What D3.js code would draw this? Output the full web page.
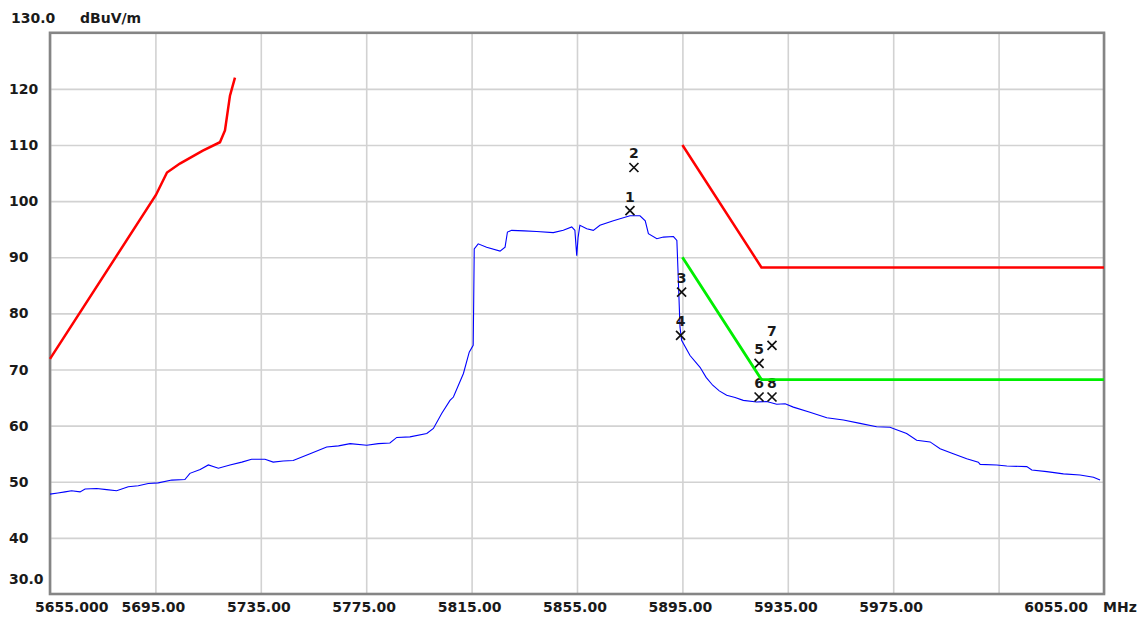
<!DOCTYPE html>
<html>
<head>
<meta charset="utf-8">
<script src="https://cdn.jsdelivr.net/npm/d3@7"></script>
<style>
  body { margin: 0; background: #fff; }
  text { font-family: "DejaVu Sans", sans-serif; font-weight: bold; font-size: 14px; fill: #1a1a1a; }
</style>
</head>
<body>
<svg width="1145" height="621"></svg>
<script>
// axis ticks
var xTicks = [5655, 5695, 5735, 5775, 5815, 5855, 5895, 5935, 5975, 6015, 6055];
var xTickLabels = ["5655.000", "5695.00", "5735.00", "5775.00", "5815.00", "5855.00", "5895.00", "5935.00", "5975.00", "", "6055.00"];
var yTicks = [40, 50, 60, 70, 80, 90, 100, 110, 120];

// measured trace (MHz, dBuV/m)
var traceFreq = [5655.0, 5658.0, 5660.7, 5663.2, 5666.4, 5668.3, 5672.7, 5676.5, 5680.3, 5684.7, 5688.5, 5692.3, 5696.1,
  5701.2, 5706.2, 5708.1, 5712.0, 5715.1, 5718.9, 5723.3, 5727.8, 5731.5, 5736.6, 5739.7, 5743.5, 5747.3,
  5753.7, 5760.0, 5764.5, 5768.9, 5775.2, 5779.6, 5784.0, 5786.6, 5791.6, 5798.0, 5800.5, 5803.7, 5806.8,
  5808.1, 5811.9, 5814.1, 5815.6, 5815.8, 5816.0, 5817.5, 5820.7, 5825.8, 5827.7, 5828.6, 5830.2, 5835.0,
  5839.7, 5846.0, 5849.8, 5853.0, 5854.2, 5854.9, 5855.4, 5856.1, 5858.7, 5861.2, 5863.7, 5868.8, 5875.1,
  5878.9, 5880.9, 5882.1, 5885.3, 5887.8, 5891.6, 5892.9, 5893.3, 5894.1, 5894.7, 5897.9, 5901.7, 5904.0, 5906.5,
  5909.0, 5911.8, 5915.0, 5918.1, 5923.2, 5927.0, 5930.8, 5934.0, 5937.1, 5943.4, 5949.8, 5956.1, 5962.4, 5968.7,
  5973.8, 5975.0, 5980.1, 5983.9, 5989.0, 5992.8, 5997.8, 6002.9, 6007.3, 6008.0, 6014.3, 6018.1, 6025.7,
  6027.6, 6033.3, 6039.6, 6045.9, 6051.0, 6053.5];
var traceLevel = [47.8, 48.0, 48.2, 48.4, 48.2, 48.7, 48.8, 48.6, 48.4, 49.1, 49.3, 49.7, 49.8,
  50.3, 50.4, 51.5, 52.2, 53.0, 52.4, 53.0, 53.5, 54.0, 54.0, 53.5, 53.7, 53.8,
  55.0, 56.2, 56.4, 56.8, 56.5, 56.8, 56.9, 57.9, 58.0, 58.6, 59.5, 62.2, 64.5,
  65.1, 69.3, 73.1, 74.3, 82.3, 91.5, 92.4, 91.8, 91.1, 91.8, 94.5, 94.8, 94.7,
  94.6, 94.4, 94.8, 95.4, 94.8, 90.3, 93.5, 95.7, 95.1, 94.8, 95.7, 96.5, 97.4,
  97.4, 96.5, 94.2, 93.3, 93.6, 93.7, 93.0, 88.0, 77.5, 75.2, 72.5, 70.4, 68.6, 67.2,
  66.2, 65.4, 65.0, 64.5, 64.2, 64.3, 63.8, 63.9, 63.3, 62.4, 61.4, 61.0, 60.4, 59.8,
  59.7, 59.5, 58.6, 57.4, 57.1, 55.9, 55.0, 54.1, 53.5, 53.1, 53.0, 52.8, 52.7,
  52.1, 51.8, 51.4, 51.2, 50.8, 50.3];

// limit lines
var limitLowFreq = [5655, 5695.2, 5699.4, 5704.3, 5713.0, 5719.5, 5721.4, 5723.3, 5725.2];
var limitLowLevel = [71.9, 101.1, 105.1, 106.7, 109.0, 110.5, 112.6, 118.8, 122.0];
var limitHighFreq = [5895, 5925, 6055];
var limitHighLevel = [110.0, 88.2, 88.2];
var limitGreenFreq = [5895, 5925, 6055];
var limitGreenLevel = [90.0, 68.2, 68.2];

// markers
var markerNo = ["1", "2", "3", "4", "5", "6", "7", "8"];
var markerFreq = [5875.1, 5876.6, 5894.7, 5894.3, 5924.1, 5924.1, 5929.0, 5929.0];
var markerLevel = [98.3, 106.0, 83.8, 76.1, 71.1, 65.1, 74.3, 65.1];

var svg = d3.select("svg");
var x = d3.scaleLinear().domain([5655, 6055]).range([50, 1104]);
var y = d3.scaleLinear().domain([30, 130]).range([594, 32.8]);

// grid
svg.append("g")
    .attr("transform", "translate(0,594)")
    .call(d3.axisBottom(x).tickValues(xTicks).tickSize(-(594 - 32.8)).tickFormat(""))
    .call(function (g) { g.select(".domain").remove(); })
    .selectAll("line").attr("stroke", "#d2d2d2").attr("stroke-width", 1.6);
svg.append("g")
    .attr("transform", "translate(50,0)")
    .call(d3.axisLeft(y).tickValues(yTicks).tickSize(-(1104 - 50)).tickFormat(""))
    .call(function (g) { g.select(".domain").remove(); })
    .selectAll("line").attr("stroke", "#d2d2d2").attr("stroke-width", 1.6);

// frame
svg.append("rect")
    .attr("x", 50).attr("y", 32.8)
    .attr("width", 1104 - 50).attr("height", 594 - 32.8)
    .attr("fill", "none").attr("stroke", "#858585").attr("stroke-width", 2.6);

// y labels
svg.selectAll("text.ylab")
    .data(yTicks)
    .enter().append("text")
    .attr("class", "ylab")
    .attr("x", 9)
    .attr("y", function (d) { return y(d) + 5; })
    .text(function (d) { return d; });
svg.append("text").attr("x", 9).attr("y", 584).text("30.0");
svg.append("text").attr("x", 11).attr("y", 23).text("130.0");
svg.append("text").attr("x", 80).attr("y", 23).text("dBuV/m");

// x labels
svg.selectAll("text.xlab")
    .data(xTicks)
    .enter().append("text")
    .attr("class", "xlab")
    .attr("x", function (d, i) {
        if (i == 0) return 35;
        if (i == xTicks.length - 1) return 1088;
        return x(d) - 2;
    })
    .attr("y", 612)
    .attr("text-anchor", function (d, i) {
        if (i == 0) return "start";
        if (i == xTicks.length - 1) return "end";
        return "middle";
    })
    .text(function (d, i) { return xTickLabels[i]; });
svg.append("text").attr("x", 1103).attr("y", 612).text("MHz");

var line = d3.line()
    .x(function (d) { return x(d[0]); })
    .y(function (d) { return y(d[1]); });

// trace
svg.append("path")
    .attr("d", line(d3.zip(traceFreq, traceLevel)))
    .attr("fill", "none").attr("stroke", "#0000ff").attr("stroke-width", 1.1);

// markers
var mk = svg.selectAll("g.mk")
    .data(markerNo)
    .enter().append("g")
    .attr("class", "mk")
    .attr("transform", function (d, i) {
        return "translate(" + x(markerFreq[i]) + "," + y(markerLevel[i]) + ")";
    });
mk.append("path")
    .attr("d", "M-4.5,-4.5L4.5,4.5M-4.5,4.5L4.5,-4.5")
    .attr("stroke", "#111").attr("stroke-width", 1.7).attr("fill", "none");
mk.append("text")
    .attr("x", 0).attr("y", -9)
    .attr("text-anchor", "middle")
    .style("font-size", "14px")
    .text(function (d) { return d; });

// limits
svg.append("path")
    .attr("d", line(d3.zip(limitLowFreq, limitLowLevel)))
    .attr("fill", "none").attr("stroke", "#ff0000").attr("stroke-width", 2.5);
svg.append("path")
    .attr("d", line(d3.zip(limitHighFreq, limitHighLevel)))
    .attr("fill", "none").attr("stroke", "#ff0000").attr("stroke-width", 2.5);
svg.append("path")
    .attr("d", line(d3.zip(limitGreenFreq, limitGreenLevel)))
    .attr("fill", "none").attr("stroke", "#00ee00").attr("stroke-width", 2.8);
</script>
</body>
</html>
